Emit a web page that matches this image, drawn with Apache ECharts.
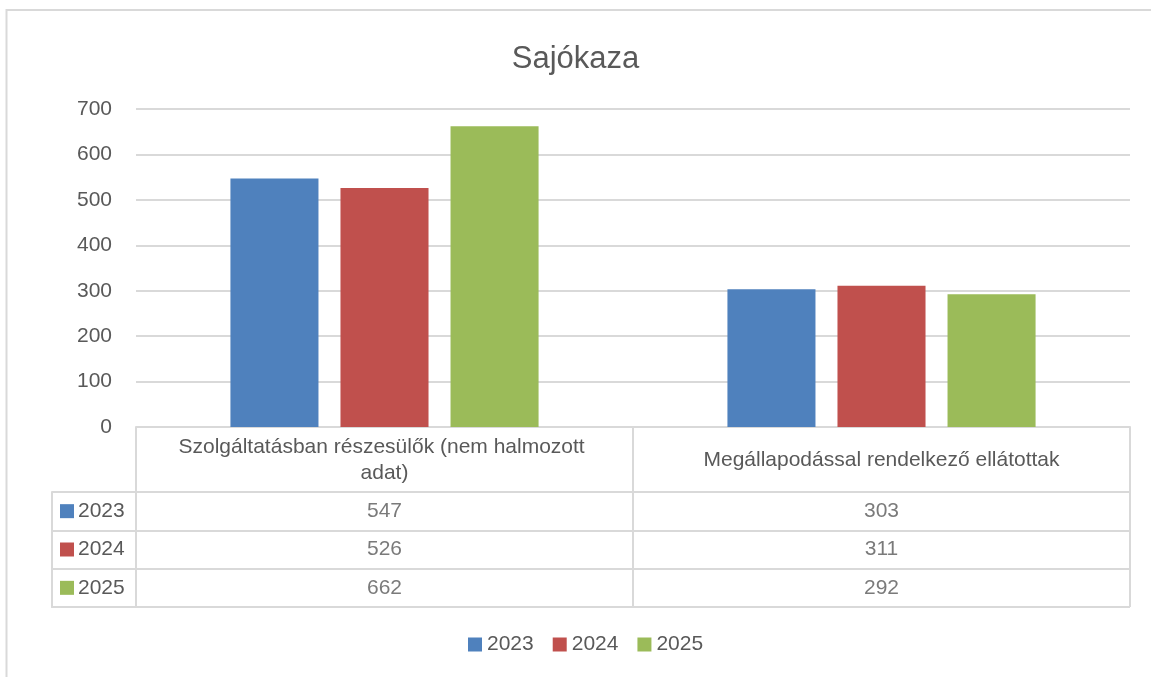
<!DOCTYPE html>
<html>
<head>
<meta charset="utf-8">
<title>Sajókaza</title>
<script src="https://cdn.jsdelivr.net/npm/echarts@6/dist/echarts.min.js"></script>
<style>
    html, body { margin: 0; padding: 0; background: #fff; }
    #chart { width: 1151px; height: 677px; }
</style>
</head>
<body>
<div id="chart"></div>
<script>
// adatok
var categories = ['Szolgáltatásban részesülők (nem halmozott adat)', 'Megállapodással rendelkező ellátottak'];
var years = ['2023', '2024', '2025'];
var values2023 = [547, 303];
var values2024 = [526, 311];
var values2025 = [662, 292];
var yTicks = [0, 100, 200, 300, 400, 500, 600, 700];
var colors = ['#4F81BD', '#C0504D', '#9BBB59'];

var allValues = [values2023, values2024, values2025];
var textColor = '#595959';
var lineColor = '#D9D9D9';
var fontName = '"Liberation Sans", Arial, sans-serif';

var dom = document.getElementById('chart');
var myChart = echarts.init(dom);

// oszlopok
var series = [];
years.forEach(function (y, i) {
    series.push({
        name: y,
        type: 'bar',
        xAxisIndex: 0,
        yAxisIndex: 0,
        barGap: '25%',
        barCategoryGap: '38%',
        itemStyle: { color: colors[i] },
        data: allValues[i]
    });
});

// adattábla értékei
var tableData = [];
years.forEach(function (y, i) {
    categories.forEach(function (c, j) {
        tableData.push([c, y, allValues[i][j]]);
    });
});
series.push({
    name: 'tabla',
    type: 'scatter',
    xAxisIndex: 1,
    yAxisIndex: 1,
    symbolSize: 0,
    silent: true,
    label: {
        show: true,
        position: 'inside',
        color: textColor,
        fontSize: 21,
        fontFamily: fontName,
        formatter: function (p) { return p.value[2]; }
    },
    data: tableData
});

// jelmagyarázat négyzetek a táblában
var rich = { t: { color: textColor, fontSize: 21, fontFamily: fontName, padding: [0, 0, 0, 4] } };
colors.forEach(function (c, i) {
    rich['s' + i] = { width: 14, height: 14, backgroundColor: c };
});

var option = {
    animation: false,
    textStyle: { fontFamily: fontName },
    title: {
        text: 'Sajókaza',
        left: 'center',
        top: 39,
        textStyle: { color: textColor, fontSize: 31, fontWeight: 'normal', fontFamily: fontName }
    },
    legend: {
        data: years,
        left: 463,
        top: 629,
        icon: 'rect',
        itemWidth: 14,
        itemHeight: 14,
        itemGap: 19,
        textStyle: { color: textColor, fontSize: 21, fontFamily: fontName }
    },
    graphic: [{
        type: 'rect',
        shape: { x: 6.5, y: 10, width: 1200, height: 720 },
        style: { fill: 'none', stroke: lineColor, lineWidth: 2 },
        silent: true
    }],
    grid: [
        { left: 136, right: 21, top: 109, height: 318 },
        { left: 136, right: 21, top: 492, height: 115 },
        { left: 52, width: 84, top: 492, height: 115 }
    ],
    xAxis: [{
        type: 'category',
        gridIndex: 0,
        data: categories,
        axisLine: { show: true, lineStyle: { color: lineColor, width: 2 } },
        axisTick: { show: true, length: 65, lineStyle: { color: lineColor, width: 2 } },
        axisLabel: {
            color: textColor,
            fontSize: 21,
            fontFamily: fontName,
            lineHeight: 26,
            width: 470,
            overflow: 'break',
            margin: 33,
            verticalAlign: 'middle',
            align: 'center',
            interval: 0
        }
    }, {
        type: 'category',
        gridIndex: 1,
        data: categories,
        axisLine: { show: false },
        axisTick: { show: false },
        axisLabel: { show: false },
        splitLine: { show: true, lineStyle: { color: lineColor, width: 2 } }
    }, {
        type: 'category',
        gridIndex: 2,
        data: ['x'],
        axisLine: { show: true, lineStyle: { color: lineColor, width: 2 } },
        axisTick: { show: false },
        axisLabel: { show: false }
    }],
    yAxis: [{
        type: 'value',
        gridIndex: 0,
        min: yTicks[0],
        max: yTicks[yTicks.length - 1],
        interval: 100,
        axisLine: { show: false },
        axisTick: { show: false },
        axisLabel: { color: textColor, fontSize: 21, fontFamily: fontName, margin: 24 },
        splitLine: { lineStyle: { color: lineColor, width: 2 } }
    }, {
        type: 'category',
        gridIndex: 1,
        data: years,
        inverse: true,
        axisLine: { show: true, lineStyle: { color: lineColor, width: 2 } },
        axisTick: { show: false },
        axisLabel: { show: false },
        splitLine: { show: true, lineStyle: { color: lineColor, width: 2 } }
    }, {
        type: 'category',
        gridIndex: 2,
        data: years,
        inverse: true,
        axisLine: { show: true, lineStyle: { color: lineColor, width: 2 } },
        axisTick: { show: false },
        splitLine: { show: true, lineStyle: { color: lineColor, width: 2 } },
        axisLabel: {
            inside: true,
            margin: 8,
            formatter: function (v, i) {
                return '{s' + i + '|}{t|' + v + '}';
            },
            rich: rich
        }
    }],
    series: series
};
myChart.setOption(option, true);
</script>
</body>
</html>
